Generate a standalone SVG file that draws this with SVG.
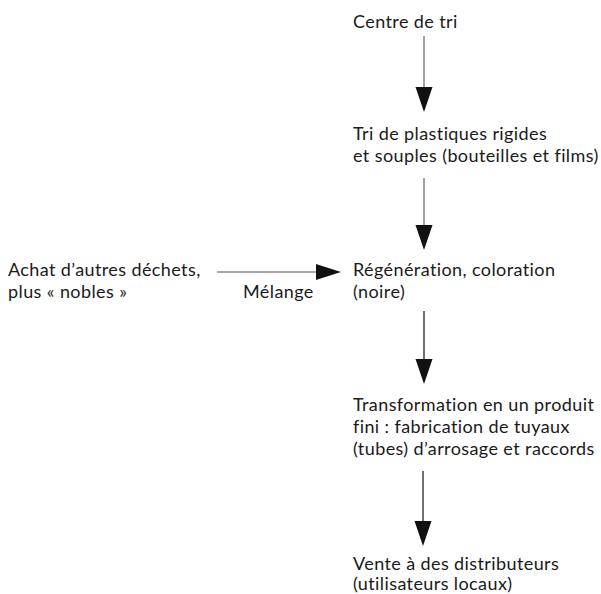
<svg xmlns="http://www.w3.org/2000/svg" width="601" height="594" viewBox="0 0 601 594">
<defs>
<style>
text{font-family:"Lato","Liberation Sans",sans-serif;font-size:18px;letter-spacing:0.4px;fill:#1a1a1a}
.c1{stroke:#8a8a8a;stroke-width:1.6;fill:none}
.c2{stroke:#333;stroke-width:1.4;fill:none}
.ah{fill:#111}
</style>
</defs>
<rect width="601" height="594" fill="#fff"/>
<g id="connectors">
<line class="c1" x1="424" y1="36" x2="424" y2="90"/>
<polygon class="ah" points="415.5,87 432.5,87 424,112"/>
<line class="c1" x1="424" y1="178" x2="424" y2="228"/>
<polygon class="ah" points="415.5,225 432.5,225 424,250"/>
<line class="c1" x1="217" y1="272" x2="319" y2="272"/>
<polygon class="ah" points="316,264 316,280 341,272"/>
<line class="c2" x1="424" y1="311" x2="424" y2="362"/>
<polygon class="ah" points="415.5,359 432.5,359 424,384"/>
<line class="c2" x1="423" y1="471" x2="423" y2="524"/>
<polygon class="ah" points="414.5,521 431.5,521 423,546"/>
<text x="243" y="298">Mélange</text>
</g>
<g id="centre"><text x="353" y="28">Centre de tri</text></g>
<g id="tri"><text x="353" y="140">Tri de plastiques rigides</text><text x="353" y="162">et souples (bouteilles et films)</text></g>
<g id="regeneration"><text x="353" y="276">Régénération, coloration</text><text x="353" y="298">(noire)</text></g>
<g id="achat"><text x="8" y="276">Achat d’autres déchets,</text><text x="8" y="298">plus « nobles »</text></g>
<g id="transformation"><text x="353" y="411">Transformation en un produit</text><text x="353" y="433">fini : fabrication de tuyaux</text><text x="353" y="455">(tubes) d’arrosage et raccords</text></g>
<g id="vente"><text x="353" y="570">Vente à des distributeurs</text><text x="353" y="590">(utilisateurs locaux)</text></g>
</svg>
